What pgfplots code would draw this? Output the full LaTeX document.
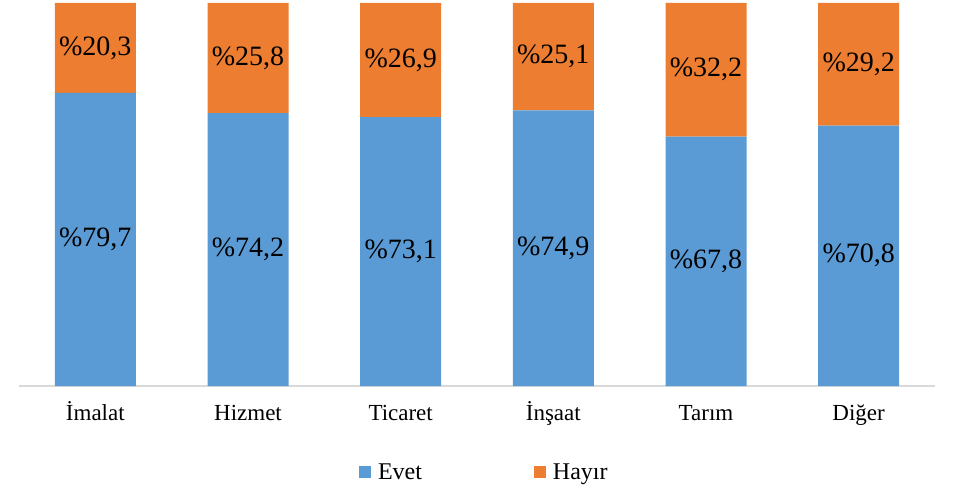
\documentclass[border=0pt]{standalone}
\usepackage{pgfplots}
\usepackage{pgfplotstable}
\pgfplotsset{compat=1.18}
\usepackage{fontspec}
\setmainfont{Liberation Serif}
\usetikzlibrary{calc}
\definecolor{cblue}{HTML}{5B9BD5}
\definecolor{corange}{HTML}{ED7D31}
\definecolor{cgrid}{HTML}{D9D9D9}
% evet, hayir = labelled percentages; hayirvis = drawn height of the orange segment
\pgfplotstableread{
x evet hayir hayirvis
0 79.7 20.3 24.4
1 74.2 25.8 29.9
2 73.1 26.9 31.0
3 74.9 25.1 29.2
4 67.8 32.2 36.3
5 70.8 29.2 33.3
}\datatable
\begin{document}
\begin{tikzpicture}
\begin{axis}[
  scale only axis, width=916pt, height=383pt,
  ybar stacked, bar width=81pt,
  xmin=-0.5, xmax=5.5, ymin=0, ymax=104.1,
  xtick=data,
  xticklabels={İmalat,Hizmet,Ticaret,İnşaat,Tarım,Diğer},
  xticklabel style={font=\fontsize{23}{27}\selectfont, text height=21pt, text depth=6pt, yshift=-10pt},
  ytick=\empty,
  major tick length=0pt,
  axis line style={draw=none},
  axis x line*=bottom,
  clip=false,
  point meta=explicit,
  nodes near coords={\%\pgfmathprintnumber[fixed,precision=1,use comma,fixed zerofill,assume math mode=true]{\pgfplotspointmeta}},
  every node near coord/.append style={font=\fontsize{28}{32}\selectfont, anchor=center, text=black},
  legend columns=2,
  legend style={draw=none, at={(0.508,-0.225)}, anchor=center, font=\fontsize{24}{28}\selectfont,
    /tikz/every odd column/.append style={column sep=5pt},
    /tikz/every even column/.append style={column sep=110pt}},
  legend image code/.code={\fill[#1] (0pt,-6pt) rectangle (12pt,6pt);},
]
\addplot[fill=cblue, draw=none] table[x=x, y=evet, meta=evet] {\datatable};
\addplot[fill=corange, draw=none] table[x=x, y=hayirvis, meta=hayir] {\datatable};
\legend{Evet,Hayır}
\draw[cgrid, line width=2pt] (rel axis cs:0,0) -- (rel axis cs:1,0);
\end{axis}
\path ($(current axis.south west)+(-19pt,-104pt)$) rectangle ($(current axis.north east)+(20pt,3pt)$);
\end{tikzpicture}
\end{document}
